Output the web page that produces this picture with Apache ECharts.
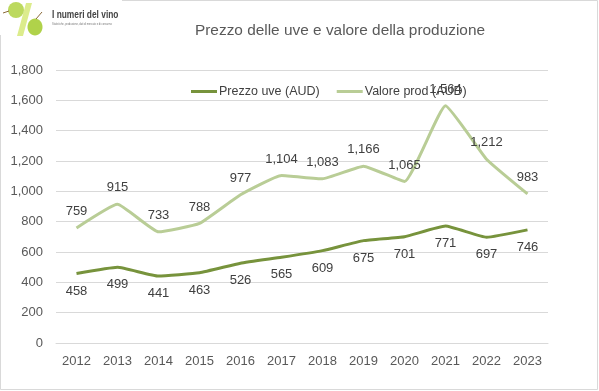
<!DOCTYPE html>
<html><head><meta charset="utf-8">
<script src="https://cdn.jsdelivr.net/npm/echarts@6/dist/echarts.min.js"></script>
<style>html,body{margin:0;padding:0;background:#fff}#c{width:599px;height:391px}</style>
</head><body><div id="c"></div>
<script>
const years = ['2012','2013','2014','2015','2016','2017','2018','2019','2020','2021','2022','2023'];
const prezzoUve = [458,499,441,463,526,565,609,675,701,771,697,746];
const valoreProd = [759,915,733,788,977,1104,1083,1166,1065,1564,1212,983];
const yTicks = [0,200,400,600,800,1000,1200,1400,1600,1800];
const titleText = 'Prezzo delle uve e valore della produzione';
const seriesNames = ['Prezzo uve (AUD)','Valore prod (AUD)'];

const fmt = v => v.toLocaleString('en-US');
const chart = echarts.init(document.getElementById('c'));
const FONT = 'Liberation Sans, Arial, sans-serif';
chart.setOption({
  animation:false,
  backgroundColor:'#fff',
  title:{text:titleText,left:335,top:18,textAlign:'center',
    textStyle:{fontFamily:FONT,fontSize:15.4,fontWeight:'normal',color:'#595959'}},
  legend:{data:seriesNames,top:80,left:186,itemGap:17,itemWidth:26,itemHeight:3,
    icon:'rect',
    textStyle:{fontFamily:FONT,fontSize:12.5,color:'#404040',padding:[0,0,0,-3]}},
  grid:{left:56,right:51,top:70,bottom:48},
  xAxis:{type:'category',data:years,boundaryGap:true,
    axisLine:{show:true,lineStyle:{color:'#d9d9d9'}},axisTick:{show:false},
    axisLabel:{fontFamily:FONT,fontSize:13,color:'#595959',margin:12}},
  yAxis:{type:'value',min:yTicks[0],max:yTicks[yTicks.length-1],interval:200,
    axisLine:{show:false},axisTick:{show:false},
    splitLine:{lineStyle:{color:'#d9d9d9'}},
    axisLabel:{fontFamily:FONT,fontSize:13,color:'#595959',margin:13,formatter:v=>fmt(v)}},
  series:[
    {name:seriesNames[0],type:'line',data:prezzoUve,smooth:0.12,showSymbol:true,symbol:'circle',symbolSize:0,
      lineStyle:{width:3,color:'#77933C'},itemStyle:{color:'#77933C'},
      label:{show:true,position:'bottom',distance:11,fontFamily:FONT,fontSize:13,color:'#404040',formatter:p=>fmt(p.value)}},
    {name:seriesNames[1],type:'line',data:valoreProd,smooth:0.12,showSymbol:true,symbol:'circle',symbolSize:0,
      lineStyle:{width:3,color:'#B9CD96'},itemStyle:{color:'#B9CD96'},
      label:{show:true,position:'top',distance:10,fontFamily:FONT,fontSize:13,color:'#404040',formatter:p=>fmt(p.value)}}
  ],
  graphic:[
    {type:'rect',shape:{x:0.5,y:0.5,width:597,height:389},style:{fill:'none',stroke:'#d9d9d9',lineWidth:1},z:-1},
    {type:'rect',shape:{x:0,y:0,width:122,height:35},style:{fill:'#fff'},z:10},
    {type:'polygon',shape:{points:[[26,3],[32,3],[23,36],[17,36]]},style:{fill:'#dcec8c'},z:11},
    {type:'circle',shape:{cx:16,cy:10,r:8},style:{fill:'#bcd95e'},z:12},
    {type:'ellipse',shape:{cx:35,cy:27,rx:7.5,ry:8.5},style:{fill:'#b0d24a'},z:12},
    {type:'line',shape:{x1:3,y1:13,x2:9,y2:11},style:{stroke:'#8a6a3a',lineWidth:1},z:12},
    {type:'line',shape:{x1:36,y1:19,x2:42,y2:12},style:{stroke:'#8a6a3a',lineWidth:1},z:12},
    {type:'text',x:52,y:9,scaleX:0.76,style:{x:0,y:0,text:'I numeri del vino',fontFamily:FONT,fontSize:11,fontWeight:'bold',fill:'#444'},z:12},
    {type:'text',x:52,y:23,scaleX:0.85,style:{x:0,y:0,text:'Statistiche, produzione, dati di mercato e di consumo',fontFamily:FONT,fontSize:3,fill:'#777'},z:12}
  ]
});
</script></body></html>
